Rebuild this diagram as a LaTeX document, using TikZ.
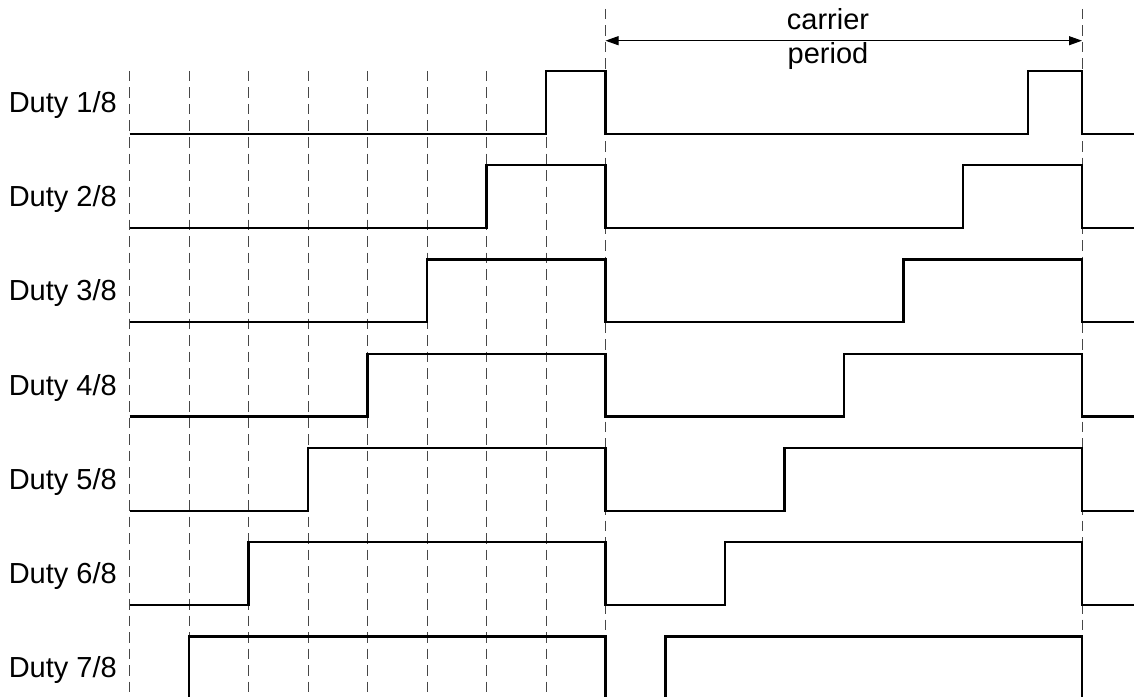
\documentclass[tikz,border=0pt]{standalone}
\usepackage{fontspec}
\setmainfont{Liberation Sans}
\usetikzlibrary{arrows.meta}
\begin{document}
\begin{tikzpicture}[x=1bp,y=-1bp,
  gridline/.style={draw=black!72,line width=1bp,dash pattern=on 10.5bp off 6bp},
  wave/.style={draw=black,line width=2.2bp,line join=miter},
  dimline/.style={draw=black,line width=1bp,{Triangle[length=13bp,width=9bp]}-{Triangle[length=13bp,width=9bp]}},
  lbl/.style={font=\fontsize{29bp}{34bp}\selectfont,inner sep=0pt}
]
\useasboundingbox (0,0) rectangle (1134,697);
\clip (0,0) rectangle (1134,697);
% grid
\foreach \i in {0,...,7}{
  \draw[gridline] (129.5+59.5*\i,71) -- (129.5+59.5*\i,700);
}
\draw[gridline] (605.5,9) -- (605.5,700);
\draw[gridline] (1082,9) -- (1082,700);
% carrier period
\coordinate (pa) at (605.5,40.7);
\coordinate (pb) at (1082,40.7);
\draw[dimline] (pa) -- (pb);
\node[lbl,anchor=base] (carrier) at (828,29.5) {carrier};
\node[lbl,anchor=base] (period) at (828,63.5) {period};
% waves
\foreach \k in {1,...,7}{
  \pgfmathsetmacro{\yh}{71+(\k-1)*94.25}
  \pgfmathsetmacro{\yl}{\yh+62.7}
  \pgfmathsetmacro{\ra}{605.5-\k*59.5}
  \pgfmathsetmacro{\rb}{ifthenelse(\k==1,1028,1082-\k*59.5)}
  \draw[wave] (129.5,\yl) -- (\ra,\yl) -- (\ra,\yh) -- (605.5,\yh) -- (605.5,\yl)
     -- (\rb,\yl) -- (\rb,\yh) -- (1082,\yh) -- (1082,\yl) -- (1140,\yl);
  \node[lbl,anchor=base east] (d\k) at (117,\yh+41.3) {Duty \k/8};
}
\end{tikzpicture}
\end{document}
